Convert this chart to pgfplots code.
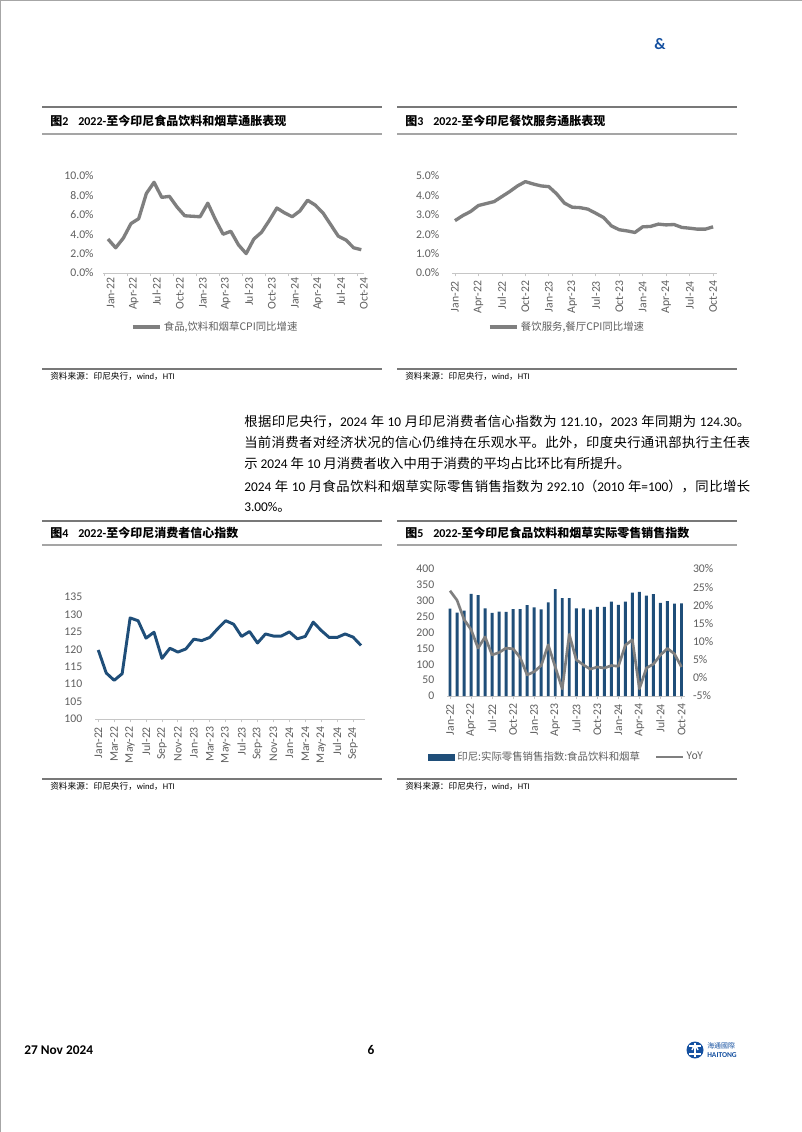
\documentclass[border=0pt]{standalone}
\usepackage{fontspec}
\setmainfont{Carlito}
\newfontfamily\cjk{Noto Sans CJK SC}
\usepackage{pgfplots}
\pgfplotsset{compat=1.18}
\definecolor{lgray}{RGB}{127,127,127}
\definecolor{navy}{RGB}{31,78,121}
\definecolor{tgray}{RGB}{95,95,95}
\definecolor{rulegray}{RGB}{120,120,120}
\definecolor{rulelight}{RGB}{165,165,165}
\definecolor{hblue}{RGB}{20,80,160}
\newcommand\zh[1]{{\cjk #1}}
\pgfplotsset{
  pagechart/.style={
    scale only axis,
    anchor=south west,
    axis x line*=bottom,
    axis y line*=left,
    x axis line style={draw=gray!45, line width=0.6pt},
    y axis line style={draw=none},
    ytick style={draw=none},
    xtick style={draw=gray!45, line width=0.6pt},
    minor tick style={draw=gray!45, line width=0.6pt},
    tick align=outside,
    major tick length=2.5pt,
    minor tick length=2.5pt,
    tick label style={font=\fontsize{8.8}{9.5}\selectfont, text=tgray},
    /pgf/number format/assume math mode=true,
    xticklabel style={rotate=90, anchor=east},
    yticklabel style={xshift=-3.5pt},
    legend style={draw=none, fill=none, font=\fontsize{7.8}{9}\selectfont\cjk, text=tgray, inner sep=0pt},
    legend image code/.code={\draw[##1] (0pt,0pt) -- (20pt,0pt);},
    clip=false,
  }
}
\begin{document}
\begin{tikzpicture}
\begin{scope}[x=0.75pt,y=-0.75pt]
\fill[white] (0,0) rectangle (802,1132);
\useasboundingbox (0,0) rectangle (802,1132);
\draw[gray!70, line width=1pt] (0.5,1132) -- (0.5,0.5) -- (802,0.5);
% header
\node[anchor=base, font=\fontsize{12}{14}\selectfont\bfseries, text=hblue, inner sep=0] at (660,49) {\&};
% rules
\foreach \xa/\xb in {42/382, 397/737}{
  \draw[rulegray, line width=1pt] (\xa,107) -- (\xb,107);
  \draw[rulelight, line width=1pt] (\xa,134) -- (\xb,134);
  \draw[rulegray, line width=0.8pt] (\xa,369) -- (\xb,369);
  \draw[rulegray, line width=1pt] (\xa,521) -- (\xb,521);
  \draw[rulelight, line width=1pt] (\xa,545) -- (\xb,545);
  \draw[rulegray, line width=0.8pt] (\xa,779) -- (\xb,779);
}
% titles
\node[anchor=base west, inner sep=0, font=\fontsize{9}{11}\selectfont\bfseries] at (50,125.5) {\zh{图}2};
\node[anchor=base west, inner sep=0, font=\fontsize{9}{11}\selectfont\bfseries] at (78,125.5) {2022-\zh{至今印尼食品饮料和烟草通胀表现}};
\node[anchor=base west, inner sep=0, font=\fontsize{9}{11}\selectfont\bfseries] at (405,125.5) {\zh{图}3};
\node[anchor=base west, inner sep=0, font=\fontsize{9}{11}\selectfont\bfseries] at (433,125.5) {2022-\zh{至今印尼餐饮服务通胀表现}};
\node[anchor=base west, inner sep=0, font=\fontsize{9}{11}\selectfont\bfseries] at (50,537.5) {\zh{图}4};
\node[anchor=base west, inner sep=0, font=\fontsize{9}{11}\selectfont\bfseries] at (78,537.5) {2022-\zh{至今印尼消费者信心指数}};
\node[anchor=base west, inner sep=0, font=\fontsize{9}{11}\selectfont\bfseries] at (405,537.5) {\zh{图}5};
\node[anchor=base west, inner sep=0, font=\fontsize{9}{11}\selectfont\bfseries] at (433,537.5) {2022-\zh{至今印尼食品饮料和烟草实际零售销售指数}};
% sources
\foreach \xs/\ys in {50/379.5, 405/379.5, 50/789.5, 405/789.5}{
  \node[anchor=base west, inner sep=0, font=\fontsize{6.5}{8}\selectfont] at (\xs,\ys) {\zh{资料来源：印尼央行，}wind\zh{，}HTI};
}
% body text
\node[anchor=base west, inner sep=0, text width=379.5pt, align=justify, font=\fontsize{10}{15.75}\selectfont] at (244,426)
{\XeTeXlinebreaklocale "zh"\XeTeXlinebreakskip=0pt plus 1pt
\zh{根据印尼央行，}2024 \zh{年} 10 \zh{月印尼消费者信心指数为} 121.10\zh{，}2023 \zh{年同期为} 124.30\zh{。}\linebreak
\zh{当前消费者对经济状况的信心仍维持在乐观水平。此外，印度央行通讯部执行主任表}\linebreak
\zh{示} 2024 \zh{年} 10 \zh{月消费者收入中用于消费的平均占比环比有所提升。}};
\node[anchor=base west, inner sep=0, text width=379.5pt, align=justify, font=\fontsize{10}{15.25}\selectfont] at (244,491)
{\XeTeXlinebreaklocale "zh"\XeTeXlinebreakskip=0pt plus 1pt
2024 \zh{年} 10 \zh{月食品饮料和烟草实际零售销售指数为} 292.10\zh{（}2010 \zh{年}=100\zh{），同比增长}\linebreak
3.00\%\zh{。}};
% footer
\node[anchor=base west, inner sep=0, font=\fontsize{10}{12}\selectfont\bfseries] at (24,1054) {27 Nov 2024};
\node[anchor=base, inner sep=0, font=\fontsize{10}{12}\selectfont\bfseries] at (371,1054) {6};
\fill[hblue] (695,1050) circle (8.5);
\draw[white, line width=1.2pt] (689,1046) -- (701,1046) (689,1054) -- (701,1054) (695,1043) -- (695,1057);
\draw[white, line width=1pt] (692,1050) arc (180:360:3);
\node[anchor=base west, inner sep=0, font=\fontsize{5.2}{6}\selectfont\cjk, text=hblue] at (707,1048) {海通國際};
\node[anchor=base west, inner sep=0, font=\fontsize{5.6}{6}\selectfont\bfseries, text=hblue] at (707,1057) {HAITONG};
\end{scope}

% ---------- Chart 2 ----------
\begin{axis}[pagechart,
  at={(103*0.75pt,-273*0.75pt)}, width=195.75pt, height=72.75pt,
  xmin=-0.65, xmax=33.35, ymin=0, ymax=10,
  ytick={0,2,...,10},
  yticklabel={\pgfmathprintnumber[fixed,fixed zerofill,precision=1]{\tick}\%},
  xtick={0,3,...,33}, major tick length=0pt,
  minor xtick={-0.5,2.5,...,32.5},
  xticklabels={Jan-22,Apr-22,Jul-22,Oct-22,Jan-23,Apr-23,Jul-23,Oct-23,Jan-24,Apr-24,Jul-24,Oct-24},
  xticklabel style={yshift=-2pt},
  legend style={at={(0.107,-0.557)}, anchor=west},
]
\addplot[lgray, line width=2.5pt, line join=round] coordinates {
(0,3.5)(1,2.6)(2,3.6)(3,5.1)(4,5.6)(5,8.2)(6,9.35)(7,7.8)(8,7.9)(9,6.8)
(10,5.9)(11,5.85)(12,5.8)(13,7.2)(14,5.5)(15,4.0)(16,4.3)(17,2.9)(18,2.0)(19,3.5)
(20,4.2)(21,5.4)(22,6.7)(23,6.2)(24,5.8)(25,6.4)(26,7.5)(27,7.0)(28,6.2)(29,5.0)
(30,3.8)(31,3.4)(32,2.6)(33,2.4)};
\addlegendentry{食品,饮料和烟草CPI同比增速}
\end{axis}

% ---------- Chart 3 ----------
\begin{axis}[pagechart,
  at={(452*0.75pt,-273*0.75pt)}, width=198.75pt, height=72.75pt,
  xmin=-0.38, xmax=33.5, ymin=0, ymax=5,
  ytick={0,1,...,5},
  yticklabel={\pgfmathprintnumber[fixed,fixed zerofill,precision=1]{\tick}\%},
  xtick={0,3,...,33},
  xticklabels={Jan-22,Apr-22,Jul-22,Oct-22,Jan-23,Apr-23,Jul-23,Oct-23,Jan-24,Apr-24,Jul-24,Oct-24},
  legend style={at={(0.136,-0.557)}, anchor=west},
]
\addplot[lgray, line width=2.5pt, line join=round] coordinates {
(0,2.7)(1,2.96)(2,3.17)(3,3.48)(4,3.58)(5,3.68)(6,3.94)(7,4.2)(8,4.49)(9,4.71)
(10,4.59)(11,4.49)(12,4.45)(13,4.08)(14,3.6)(15,3.39)(16,3.37)(17,3.29)(18,3.08)(19,2.86)
(20,2.43)(21,2.23)(22,2.17)(23,2.09)(24,2.38)(25,2.4)(26,2.52)(27,2.48)(28,2.5)(29,2.35)
(30,2.31)(31,2.26)(32,2.26)(33,2.38)};
\addlegendentry{餐饮服务,餐厅CPI同比增速}
\end{axis}

% ---------- Chart 4 ----------
\begin{axis}[pagechart,
  at={(95*0.75pt,-719*0.75pt)}, width=202.5pt, height=91.5pt,
  xmin=-0.41, xmax=33.5, ymin=100, ymax=135,
  ytick={100,105,...,135},
  xtick={0,2,...,32},
  xticklabels={Jan-22,Mar-22,May-22,Jul-22,Sep-22,Nov-22,Jan-23,Mar-23,May-23,Jul-23,Sep-23,Nov-23,Jan-24,Mar-24,May-24,Jul-24,Sep-24},
]
\addplot[navy, line width=2.2pt, line join=round] coordinates {
(0,119.8)(1,113.2)(2,111.1)(3,113.0)(4,129.0)(5,128.2)(6,123.2)(7,124.9)(8,117.4)(9,120.3)
(10,119.2)(11,120.1)(12,122.9)(13,122.5)(14,123.4)(15,125.9)(16,128.2)(17,127.2)(18,123.7)(19,125.1)
(20,121.8)(21,124.4)(22,123.8)(23,123.8)(24,125.0)(25,123.0)(26,123.7)(27,127.8)(28,125.4)(29,123.4)
(30,123.4)(31,124.4)(32,123.5)(33,121.1)};
\end{axis}

% ---------- Chart 5 ----------
\begin{axis}[pagechart,
  at={(447*0.75pt,-696*0.75pt)}, width=178.5pt, height=95.25pt,
  xmin=-0.43, xmax=33.5, ymin=0, ymax=400,
  ytick={0,50,...,400},
  xtick={0,3,...,33},
  xticklabels={Jan-22,Apr-22,Jul-22,Oct-22,Jan-23,Apr-23,Jul-23,Oct-23,Jan-24,Apr-24,Jul-24,Oct-24},
]
\addplot[ybar, bar width=0.42, bar shift=0pt, fill=navy, draw=none] coordinates {
(0,275)(1,263)(2,269)(3,322)(4,318)(5,276)(6,262)(7,266)(8,265)(9,274)
(10,274)(11,286)(12,279)(13,273)(14,295)(15,337)(16,308)(17,308)(18,276)(19,276)
(20,272)(21,281)(22,281)(23,297)(24,287)(25,297)(26,326)(27,328)(28,316)(29,321)
(30,293)(31,299)(32,291)(33,292.1)};
\end{axis}
\begin{axis}[pagechart,
  at={(447*0.75pt,-696*0.75pt)}, width=178.5pt, height=95.25pt,
  xmin=-0.43, xmax=33.5, ymin=-5, ymax=30,
  axis y line*=right, hide x axis,
  ytick={-5,0,...,30},
  yticklabel={\pgfmathprintnumber{\tick}\%},
  yticklabel style={xshift=3.5pt},
  legend columns=2,
  legend style={at={(-0.08,-0.48)}, anchor=west, /tikz/every even column/.append style={column sep=9pt}},
]
\addlegendimage{legend image code/.code={\fill[navy] (0pt,-2.2pt) rectangle (19.5pt,2.2pt);}}
\addlegendentry{印尼:实际零售销售指数:食品饮料和烟草}
\addplot[lgray, line width=2pt, line join=round] coordinates {
(0,24.0)(1,21.4)(2,16.1)(3,13.3)(4,8.2)(5,11.3)(6,6.3)(7,7.0)(8,8.2)(9,8.0)
(10,5.6)(11,0.8)(12,1.7)(13,3.4)(14,9.1)(15,3.0)(16,-3.0)(17,12.0)(18,5.0)(19,3.6)
(20,2.4)(21,3.0)(22,2.7)(23,3.4)(24,3.2)(25,9.0)(26,10.5)(27,-3.0)(28,2.7)(29,3.8)
(30,6.3)(31,8.1)(32,6.6)(33,3.0)};
\addlegendentry{YoY}
\end{axis}
\end{tikzpicture}
\end{document}
